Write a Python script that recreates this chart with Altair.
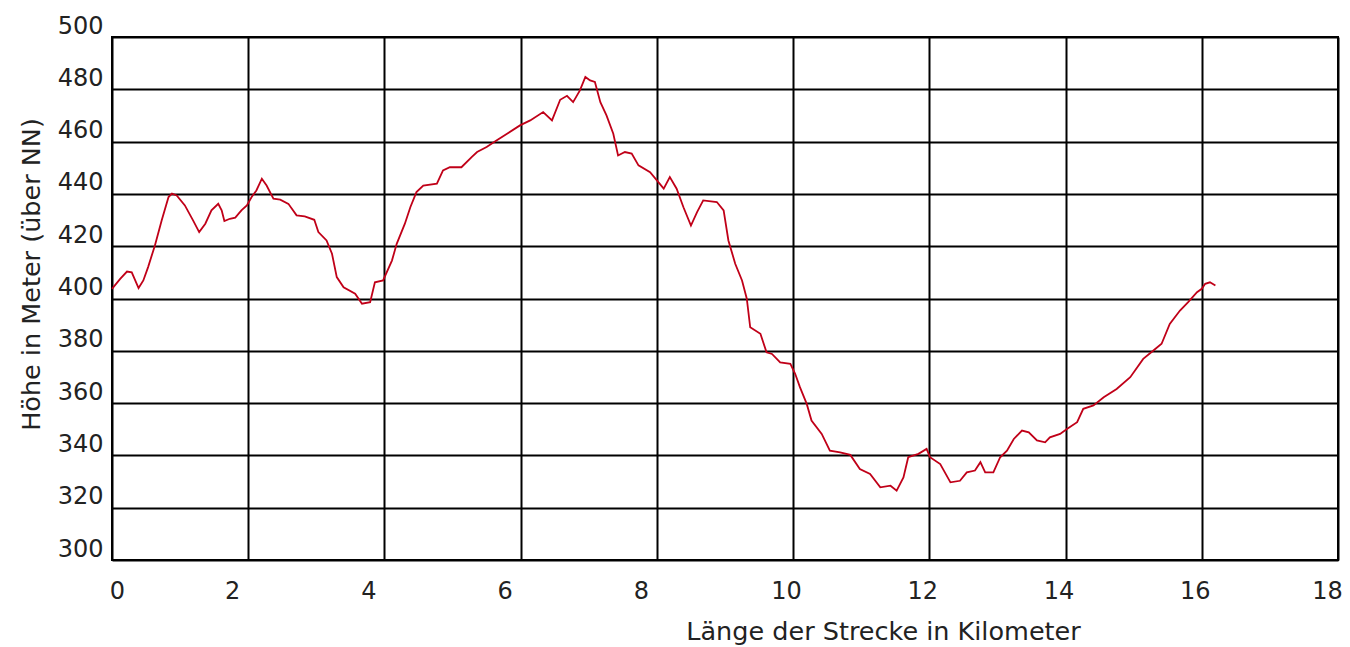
import altair as alt
import pandas as pd

km = [0.00, 0.12, 0.22, 0.29, 0.39, 0.46, 0.53, 0.63, 0.73, 0.83, 0.88, 0.95, 1.07, 1.19, 1.28, 1.37,
      1.46, 1.56, 1.61, 1.65, 1.73, 1.81, 1.90, 1.98, 2.05, 2.12, 2.20, 2.27, 2.37, 2.47, 2.59, 2.71,
      2.83, 2.97, 3.03, 3.15, 3.23, 3.30, 3.40, 3.57, 3.67, 3.79, 3.86, 3.98, 4.11, 4.18, 4.30, 4.38,
      4.47, 4.57, 4.77, 4.86, 4.96, 5.13, 5.28, 5.36, 5.50, 5.65, 5.80, 5.99, 6.14, 6.33, 6.46, 6.58,
      6.68, 6.77, 6.87, 6.95, 7.02, 7.09, 7.17, 7.26, 7.36, 7.43, 7.53, 7.63, 7.73, 7.90, 8.00, 8.10,
      8.19, 8.29, 8.39, 8.50, 8.59, 8.68, 8.88, 8.98, 9.05, 9.15, 9.25, 9.32, 9.37, 9.52, 9.61, 9.69,
      9.81, 9.96, 10.03, 10.10, 10.20, 10.27, 10.42, 10.54, 10.69, 10.84, 10.98, 11.13, 11.28, 11.43,
      11.52, 11.62, 11.69, 11.84, 11.96, 12.01, 12.16, 12.31, 12.45, 12.55, 12.67, 12.75, 12.82, 12.94,
      13.04, 13.14, 13.24, 13.36, 13.46, 13.58, 13.70, 13.77, 13.92, 14.02, 14.17, 14.26, 14.41, 14.56,
      14.75, 14.95, 15.14, 15.29, 15.41, 15.53, 15.68, 15.80, 15.93, 16.00, 16.05, 16.12, 16.20]

hoehe = [403.7, 407.5, 410.3, 410.0, 404.0, 406.9, 412.0, 420.3, 429.9, 438.8, 440.1, 439.4, 435.6, 429.9, 425.4, 428.6,
         433.7, 436.2, 433.7, 429.6, 430.5, 430.9, 433.7, 435.6, 438.8, 441.3, 445.8, 443.2, 438.2, 437.8, 436.2, 431.8,
         431.4, 430.1, 425.4, 422.2, 417.1, 408.2, 404.3, 401.8, 398.0, 398.6, 406.2, 406.9, 414.5, 420.9, 428.6, 434.9,
         440.7, 443.2, 443.9, 449.0, 450.2, 450.2, 454.1, 456.0, 457.9, 460.5, 463.0, 466.2, 468.1, 471.3, 468.1, 476.0,
         477.5, 475.1, 479.6, 484.7, 483.4, 482.8, 475.1, 470.0, 463.0, 454.7, 456.0, 455.4, 450.9, 448.3, 445.2, 442.0,
         446.4, 442.0, 434.9, 427.9, 433.0, 437.5, 436.9, 433.7, 422.2, 413.3, 406.9, 399.9, 389.0, 386.5, 379.4, 378.8,
         375.6, 375.0, 371.2, 366.1, 359.7, 353.3, 348.2, 341.8, 341.2, 340.2, 334.8, 332.9, 327.8, 328.4,
         326.5, 331.6, 339.3, 340.6, 342.5, 339.3, 336.7, 329.7, 330.3, 333.5, 334.2, 337.4, 333.5, 333.5,
         339.3, 341.8, 346.3, 349.5, 348.8, 345.7, 345.0, 346.9, 348.2, 350.1, 352.7, 357.8, 359.1, 362.2,
         365.4, 369.9, 376.9, 380.1, 382.7, 390.3, 395.4, 398.6, 402.4, 403.7, 405.6, 406.2, 405.0]

x_ticks = [0, 2, 4, 6, 8, 10, 12, 14, 16, 18]
y_ticks = [300, 320, 340, 360, 380, 400, 420, 440, 460, 480, 500]

df = pd.DataFrame({"km": km, "hoehe": hoehe})

FONT = "DejaVu Sans"

chart = alt.Chart(df).mark_line(color="#c00018", strokeWidth=1.8).encode(
    x=alt.X("km:Q",
            scale=alt.Scale(domain=[0, 18], nice=False),
            axis=alt.Axis(values=x_ticks, title="Länge der Strecke in Kilometer",
                          grid=True, gridColor="black", gridWidth=2, gridOpacity=1,
                          domain=False, ticks=False,
                          labelFont=FONT, labelFontSize=24, labelColor="#222",
                          labelPadding=19, labelFlush=False,
                          labelOffset={"expr": "datum.value == 0 ? 5 : (datum.value <= 8 ? -16 : (datum.value == 18 ? -11 : -7))"},
                          titleFont=FONT, titleFontSize=25.5, titleFontWeight="normal", titleColor="#222",
                          titleX=771, titleY=71, titleBaseline="middle", titleAnchor="start", titleAlign="center")),
    y=alt.Y("hoehe:Q",
            scale=alt.Scale(domain=[300, 500], nice=False),
            axis=alt.Axis(values=y_ticks, title="Höhe in Meter (über NN)",
                          grid=True, gridColor="black", gridWidth=2, gridOpacity=1,
                          domain=False, ticks=False,
                          labelFont=FONT, labelFontSize=24, labelColor="#222",
                          labelPadding=9, labelOffset=-11, labelFlush=False,
                          titleFont=FONT, titleFontSize=25.5, titleFontWeight="normal", titleColor="#222",
                          titleX=-81, titleY=237, titleBaseline="middle", titleAnchor="start", titleAlign="center")),
).properties(
    width=1226, height=523,
    autosize=alt.AutoSizeParams(type="none"),
    padding={"left": 104, "top": 29, "right": 4, "bottom": 87},
    background="white",
).configure_view(stroke="black", strokeWidth=2)

chart.save("out.html", embed_options={"renderer": "svg", "actions": False})
